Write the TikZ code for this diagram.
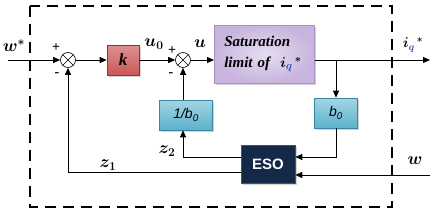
\documentclass[tikz,border=0pt]{standalone}
\usepackage{fontspec}
\setmainfont{Liberation Serif}
\setsansfont{Liberation Sans}
\usetikzlibrary{positioning,arrows.meta,calc,shadows}
\definecolor{CtrlRed}{RGB}{204,86,86}
\definecolor{CtrlRedDark}{RGB}{150,50,50}
\definecolor{CtrlCyan}{RGB}{90,178,204}
\definecolor{CtrlCyanDark}{RGB}{55,135,165}
\definecolor{CtrlLilac}{RGB}{200,180,222}
\definecolor{CtrlLilacDark}{RGB}{165,145,195}
\definecolor{CtrlNavy}{RGB}{20,40,72}
\definecolor{CtrlSub}{RGB}{40,80,170}
\tikzset{
  ctrl box/.style={
    draw,
    line width=0.6pt,
    align=center,
    inner sep=2pt,
    drop shadow={opacity=0.35, shadow xshift=1.5pt, shadow yshift=-1.5pt}
  },
  ctrl gain/.style={ctrl box, draw=CtrlRedDark, top color=CtrlRed!65, bottom color=CtrlRed,
    minimum width=32pt, minimum height=30pt, font=\fontsize{17}{19}\selectfont\bfseries\itshape},
  ctrl coef/.style={ctrl box, draw=CtrlCyanDark, top color=CtrlCyan!55, bottom color=CtrlCyan,
    minimum height=30pt, font=\fontsize{14}{16}\selectfont\sffamily\itshape},
  ctrl sat/.style={ctrl box, draw=CtrlLilacDark, inner color=CtrlLilac!45, outer color=CtrlLilac,
    minimum width=100pt, minimum height=58pt, align=left, text width=80pt, inner xsep=10pt,
    font=\fontsize{15}{21}\selectfont\bfseries\itshape\boldmath},
  ctrl eso/.style={ctrl box, draw=CtrlNavy!80, fill=CtrlNavy, text=white,
    minimum width=54pt, minimum height=38pt, font=\fontsize{15}{17}\selectfont\sffamily\bfseries},
  ctrl sum/.style={draw, circle, fill=white, minimum size=15pt, inner sep=0pt, line width=0.6pt,
    path picture={\draw[line width=0.5pt]
      (path picture bounding box.south west) -- (path picture bounding box.north east)
      (path picture bounding box.north west) -- (path picture bounding box.south east);}},
  ctrl arrow/.style={-{Triangle[length=7pt,width=6pt]}, line width=0.8pt},
  ctrl frame/.style={line width=2.8pt, dash pattern=on 11pt off 7pt},
  ctrl label/.style={font=\fontsize{17}{19}\selectfont\bfseries\boldmath, inner sep=0pt},
  ctrl sign/.style={font=\fontsize{14}{16}\selectfont\bfseries, inner sep=0pt}
}

\begin{document}
\begin{tikzpicture}[x=1pt,y=-1pt]
\useasboundingbox (0,0) rectangle (436,214);
\draw[ctrl frame] (30,6) rectangle (392,207);
% forward path
\coordinate (wref) at (8,60);
\node[ctrl sum] (sumA) at (68,60) {};
\node[ctrl gain] (gainK) at (123,60) {k};
\node[ctrl sum] (sumB) at (183,60) {};
\node[ctrl sat, anchor=west] (sat) at (214,54) {Saturation\\limit of\ \ $i_{\color{CtrlSub}q}^{\,*}$};
\coordinate (iq) at (430,60);
% observer part
\node[ctrl coef, minimum width=43pt] (bzero) at (336,113) {b\textsubscript{0}};
\node[ctrl coef, minimum width=53pt] (invb) at (186,115) {1/b\textsubscript{0}};
\node[ctrl eso] (eso) at (268,164) {ESO};
\coordinate (wIn) at (430,175);
% connectors
\draw[ctrl arrow] (wref) -- (sumA);
\draw[ctrl arrow] (sumA) -- (gainK);
\draw[ctrl arrow] (gainK) -- (sumB);
\draw[ctrl arrow] (sumB) -- (sumB -| sat.west);
\draw[ctrl arrow] (sat.east |- iq) -- (iq);
\draw[ctrl arrow] (bzero.north |- iq) -- (bzero);
\draw[ctrl arrow] (bzero) |- ($(eso.east)+(0,-7)$);
\draw[ctrl arrow] (wIn) -- (wIn -| eso.east);
\draw[ctrl arrow] ($(eso.west)+(0,-7)$) -| (invb.south -| sumB);
\draw[ctrl arrow] (invb.north -| sumB) -- (sumB);
\draw[ctrl arrow] ($(eso.west)+(0,8)$) -| (sumA);
% signal labels
\node[ctrl label] (lblWref) at (14,46) {$w^{*}$};
\node[ctrl sign] (plusA) at (56,48) {+};
\node[ctrl sign] (minusA) at (57,75) {-};
\node[ctrl label] (lblU0) at (154,44) {$u_0$};
\node[ctrl sign] (plusB) at (172,51) {+};
\node[ctrl sign] (minusB) at (171,75) {-};
\node[ctrl label] (lblU) at (200,44) {$u$};
\node[ctrl label, font=\fontsize{14}{16}\selectfont\bfseries\boldmath] (lblIq) at (413,45) {$i_{\color{CtrlSub}q}^{\,*}$};
\node[ctrl label] (lblW) at (415,161) {$w$};
\node[ctrl label] (lblZ1) at (108,165) {$z_1$};
\node[ctrl label] (lblZ2) at (167,151) {$z_2$};
\end{tikzpicture}
\end{document}
